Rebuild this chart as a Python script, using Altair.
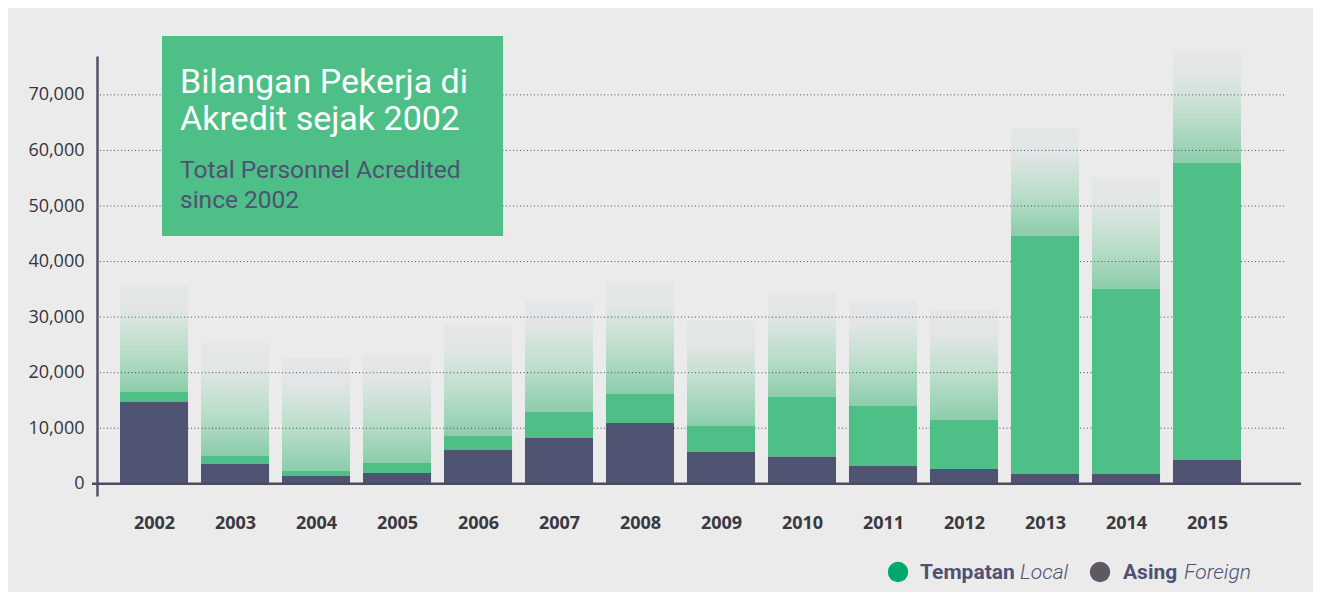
import altair as alt
import pandas as pd

# ---- data ----
years = [2002, 2003, 2004, 2005, 2006, 2007, 2008, 2009, 2010, 2011, 2012, 2013, 2014, 2015]
foreign = [14700, 3600, 1400, 1950, 6100, 8250, 10950, 5750, 4850, 3200, 2650, 1750, 1750, 4300]
local = [1800, 1450, 900, 1800, 2500, 4700, 5250, 4650, 10800, 10800, 8850, 42900, 33350, 53500]
fade_top = [35800, 25400, 22650, 23400, 28850, 33100, 36500, 29400, 34550, 33100, 31300, 64100, 55100, 78000]
y_ticks = [0, 10000, 20000, 30000, 40000, 50000, 60000, 70000]
grid_values = [10000, 20000, 30000, 40000, 50000, 60000, 70000]

title_lines = ["Bilangan Pekerja di", "Akredit sejak 2002"]
subtitle_lines = ["Total Personnel Acredited", "since 2002"]

BG = "#ebebeb"
FOREIGN_C = "#505473"
LOCAL_C = "#4dbf87"
SLATE = "#4f5272"

W, H = 1188, 440

df = pd.DataFrame({"year": years, "foreign": foreign, "local": local, "fade": fade_top})
grid_df = pd.DataFrame({"g": grid_values})
one = pd.DataFrame({"k": [0]})

xscale = alt.Scale(domain=[2001.296, 2015.963], nice=False, zero=False)
yscale = alt.Scale(domain=[-2200, 77000], nice=False, zero=False)

base = alt.Chart(df).transform_calculate(
    x0="datum.year - 0.42",
    x1="datum.year + 0.42",
    stack_top="datum.foreign + datum.local",
    zero="0",
)

xenc = alt.X(
    "x0:Q",
    scale=xscale,
    axis=alt.Axis(
        values=years, labelExpr="format(datum.value, 'd')", title="", domain=False,
        ticks=False, grid=False,
        labelFont="Open Sans", labelFontSize=18, labelFontWeight="bold",
        labelColor="#3a393f", labelPadding=18,
    ),
)
yaxis = alt.Axis(
    values=y_ticks, labelExpr="format(datum.value, ',')", title="", grid=False, ticks=False,
    domainColor="#55536b", domainWidth=2.5,
    labelFont="Open Sans", labelFontSize=18, labelColor="#35343a", labelPadding=13,
)

grad = alt.Gradient(
    gradient="linear",
    stops=[
        alt.GradientStop(color="#8ccdab", offset=0),
        alt.GradientStop(color="#bcdecb", offset=0.4),
        alt.GradientStop(color="#e2e6e6", offset=0.78),
        alt.GradientStop(color="#e5e7e9", offset=1),
    ],
    x1=0, x2=0, y1=1, y2=0,
)

fade_bars = base.mark_bar(color=grad).encode(
    x=xenc, x2="x1:Q",
    y=alt.Y("fade:Q", scale=yscale, axis=yaxis),
    y2="stack_top:Q",
)

grid = alt.Chart(grid_df).mark_rule(
    color="#50505a", strokeWidth=1, strokeDash=[1, 2.5]
).encode(
    y=alt.Y("g:Q", scale=yscale),
    x=alt.value(3), x2=alt.value(W),
)

local_bars = base.mark_bar(color=LOCAL_C).encode(
    x="x0:Q", x2="x1:Q",
    y=alt.Y("stack_top:Q", scale=yscale),
    y2="foreign:Q",
)

foreign_bars = base.mark_bar(color=FOREIGN_C).encode(
    x="x0:Q", x2="x1:Q",
    y=alt.Y("foreign:Q", scale=yscale),
    y2="zero:Q",
)

xaxis_line = alt.Chart(one).mark_rule(color="#4d4b62", strokeWidth=2.5).encode(
    y=alt.datum(0), x=alt.value(-5), x2=alt.value(1204),
)

title_box = alt.Chart(one).mark_rect(color=LOCAL_C).encode(
    x=alt.value(65), x2=alt.value(406), y=alt.value(-20), y2=alt.value(180),
)

title_text = alt.Chart(one).mark_text(
    align="left", baseline="alphabetic", font="Roboto", fontSize=34,
    fontWeight="normal", color="white", lineHeight=37,
).encode(x=alt.value(83), y=alt.value(37), text=alt.value(title_lines))

subtitle_text = alt.Chart(one).mark_text(
    align="left", baseline="alphabetic", font="Roboto", fontSize=24.5,
    fontWeight="normal", color=SLATE, lineHeight=30,
).encode(x=alt.value(83), y=alt.value(122), text=alt.value(subtitle_lines))

dot_local = alt.Chart(one).mark_circle(color="#00a86b", opacity=1, size=415).encode(
    x=alt.value(801), y=alt.value(516)
)
dot_foreign = alt.Chart(one).mark_circle(color="#5d5862", opacity=1, size=415).encode(
    x=alt.value(1003), y=alt.value(516)
)

def legend_text(txt, xpos, bold):
    return alt.Chart(one).mark_text(
        align="left", baseline="alphabetic", font="Roboto", fontSize=21,
        fontWeight="bold" if bold else 300,
        fontStyle="normal" if bold else "italic", color=SLATE,
    ).encode(x=alt.value(xpos), y=alt.value(523), text=alt.value(txt))

chart = alt.layer(
    fade_bars, grid, local_bars, foreign_bars, xaxis_line,
    title_box, title_text, subtitle_text,
    dot_local, dot_foreign,
    legend_text("Tempatan", 823, True), legend_text("Local", 923, False),
    legend_text("Asing", 1026, True), legend_text("Foreign", 1087, False),
).properties(
    width=W, height=H,
    autosize=alt.AutoSizeParams(type="none"),
    padding={"left": 89, "top": 48, "right": 28, "bottom": 96},
    background=BG,
).configure_view(stroke=None)

chart.save("out.html", embed_options={"renderer": "svg", "actions": False})
